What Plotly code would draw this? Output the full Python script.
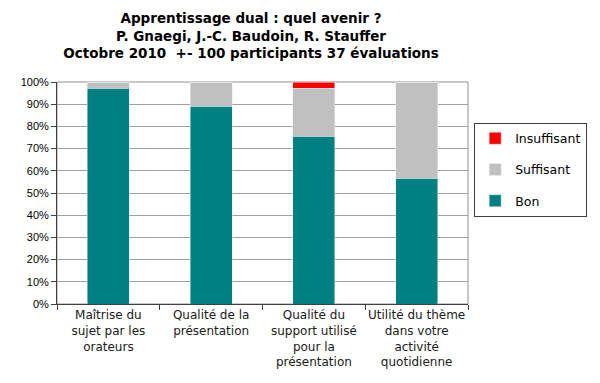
import plotly.graph_objects as go

categories = [
    "Maîtrise du<br>sujet par les<br>orateurs",
    "Qualité de la<br>présentation",
    "Qualité du<br>support utilisé<br>pour la<br>présentation",
    "Utilité du thème<br>dans votre<br>activité<br>quotidienne",
]
bon = [36, 33, 28, 21]
suffisant = [1, 4, 8, 16]
insuffisant = [0, 0, 1, 0]
n_eval = 37

def pct(vals):
    return [v / n_eval for v in vals]

fig = go.Figure()
fig.add_bar(x=categories, y=pct(bon), name="Bon", marker_color="#008080",
            legendgroup="a", legendrank=3)
fig.add_bar(x=categories, y=pct(suffisant), name="Suffisant", marker_color="#C0C0C0",
            legendgroup="b", legendrank=2)
fig.add_bar(x=categories, y=pct(insuffisant), name="Insuffisant", marker_color="#FF0000",
            legendgroup="c", legendrank=1)

# page body has an 8px default margin; size the figure to fill the 600x383 window
W, H = 592, 375
fig.update_layout(
    barmode="stack",
    bargap=0.59,
    width=W, height=H,
    margin=dict(l=49, r=132, t=74, b=79, autoexpand=False),
    paper_bgcolor="white", plot_bgcolor="white",
    title=dict(
        text="Apprentissage dual : quel avenir ?<br>P. Gnaegi, J.-C. Baudoin, R. Stauffer<br>Octobre 2010  +- 100 participants 37 évaluations",
        x=243 / W, xanchor="center", y=1 - 15.3 / H, yanchor="top",
        font=dict(family="DejaVu Sans", size=13.5, color="black", weight="bold"),
    ),
    legend=dict(
        traceorder="grouped",
        x=1.015, xanchor="left", y=0.817, yanchor="top",
        bordercolor="#404040", borderwidth=1,
        font=dict(family="DejaVu Sans", size=12.5, color="black"),
        tracegroupgap=12,
        itemwidth=30,
    ),
    showlegend=True,
)
fig.update_yaxes(
    range=[0, 1], tickvals=[i / 10 for i in range(11)], tickformat=".0%",
    showgrid=True, gridcolor="#A0A0A0", gridwidth=1,
    ticks="outside", ticklen=5, tickcolor="#404040",
    showline=True, linecolor="#404040", linewidth=1,
    tickfont=dict(family="Liberation Sans", size=11, color="black"),
    zeroline=False, automargin=False,
)
fig.update_xaxes(
    tickson="boundaries", ticks="outside", ticklen=5, tickcolor="#404040",
    showline=True, linecolor="#404040", linewidth=1,
    tickfont=dict(family="DejaVu Sans", size=12, color="#202020"),
    tickangle=0, automargin=False,
    showgrid=False,
)
# right and top border of plot area
fig.add_shape(type="rect", xref="paper", yref="paper", x0=0, y0=0, x1=1, y1=1,
              line=dict(color="#909090", width=1), layer="below")

fig.write_html("out.html")
